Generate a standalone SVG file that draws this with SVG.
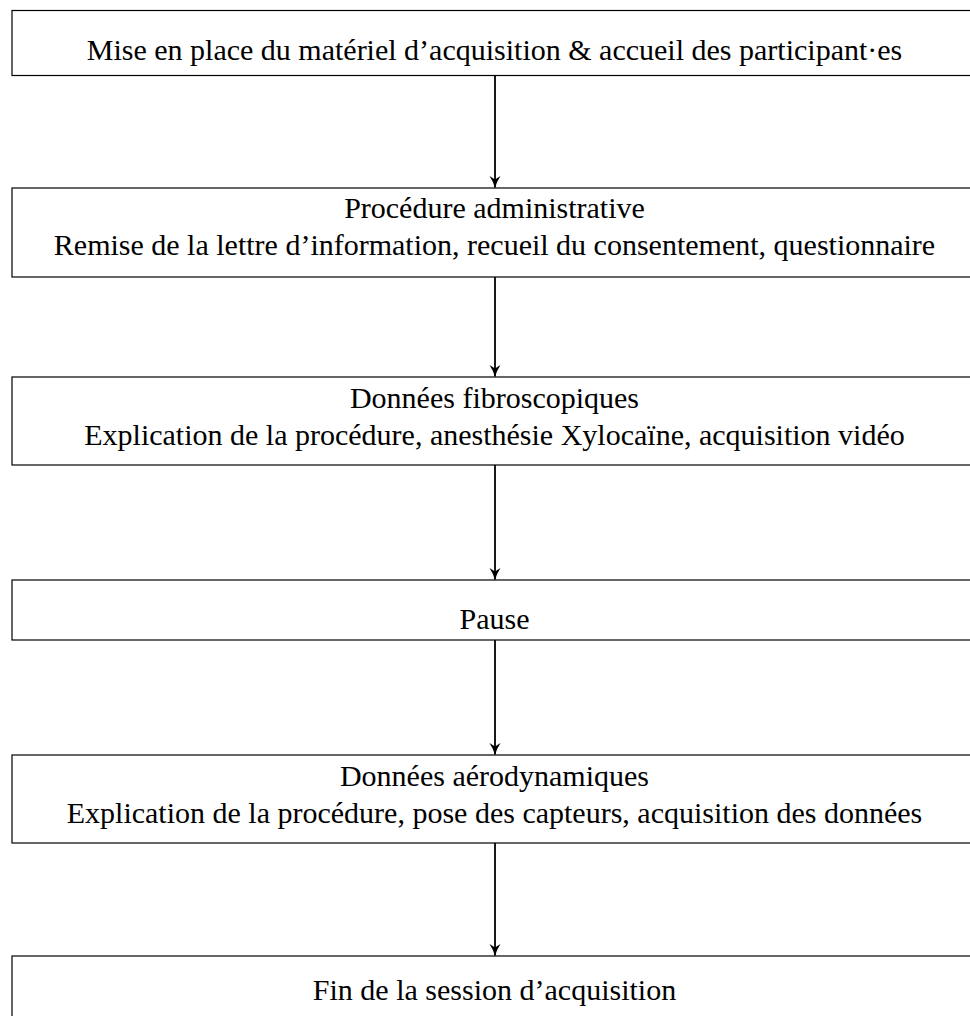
<svg xmlns="http://www.w3.org/2000/svg" width="970" height="1016" viewBox="0 0 970 1016">
<defs>
<style>
.box{fill:#fff;stroke:#000;stroke-width:1.2}
.t{font-family:"Liberation Serif","Times New Roman",serif;font-size:30px;fill:#000;text-anchor:middle}
.c{stroke:#000;stroke-width:1.8;fill:none}
</style>
<marker id="ah" viewBox="0 0 12 12" refX="11.5" refY="6" markerWidth="12" markerHeight="12" markerUnits="userSpaceOnUse" orient="auto">
<path d="M0,0.5 Q6,4.5 12,6 Q6,7.5 0,11.5 L3.5,6 Z" fill="#000"/>
</marker>
</defs>
<g id="connectors">
<line class="c" x1="495" y1="75.5" x2="495" y2="187.5" marker-end="url(#ah)"/>
<line class="c" x1="495" y1="277" x2="495" y2="376.5" marker-end="url(#ah)"/>
<line class="c" x1="495" y1="465" x2="495" y2="579.5" marker-end="url(#ah)"/>
<line class="c" x1="495" y1="640" x2="495" y2="754.5" marker-end="url(#ah)"/>
<line class="c" x1="495" y1="843" x2="495" y2="955.5" marker-end="url(#ah)"/>
</g>
<g id="n1"><rect class="box" x="12" y="10.5" width="965" height="65"/><text class="t" x="494.5" y="60">Mise en place du matériel d’acquisition &amp; accueil des participant·es</text></g>
<g id="n2"><rect class="box" x="12" y="188" width="965" height="89"/><text class="t" x="494.5" y="218">Procédure administrative</text><text class="t" x="494.5" y="255">Remise de la lettre d’information, recueil du consentement, questionnaire</text></g>
<g id="n3"><rect class="box" x="12" y="377" width="965" height="88"/><text class="t" x="494.5" y="408">Données fibroscopiques</text><text class="t" x="494.5" y="445">Explication de la procédure, anesthésie Xylocaïne, acquisition vidéo</text></g>
<g id="n4"><rect class="box" x="12" y="580" width="965" height="60"/><text class="t" x="494.5" y="629">Pause</text></g>
<g id="n5"><rect class="box" x="12" y="755" width="965" height="88"/><text class="t" x="494.5" y="786">Données aérodynamiques</text><text class="t" x="494.5" y="823">Explication de la procédure, pose des capteurs, acquisition des données</text></g>
<g id="n6"><rect class="box" x="12" y="956" width="965" height="90"/><text class="t" x="494.5" y="1000">Fin de la session d’acquisition</text></g>
</svg>
